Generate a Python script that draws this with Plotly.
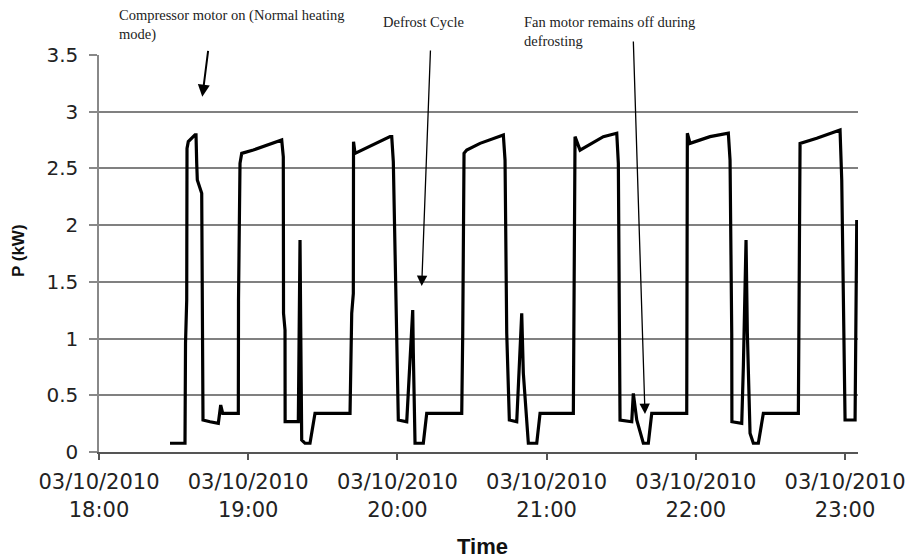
import pandas as pd
import plotly.graph_objects as go

# minutes after 03/10/2010 18:00
minutes = [28.55, 34.58, 34.79, 35.27, 35.39, 35.91, 38.61, 39.01, 39.29, 39.53,
           41.30, 41.40, 41.62, 41.82, 44.64, 47.98, 48.94, 49.74, 56.02, 56.10,
           56.70, 57.39, 62.05, 72.79, 73.47, 74.11, 74.20, 74.80, 74.85, 80.15,
           80.83, 81.11, 81.51, 82.84, 84.85, 86.86, 100.94, 101.62, 102.27, 102.35,
           102.95, 117.02, 117.71, 118.35, 120.36, 123.74, 124.38, 126.15, 126.39, 127.08,
           130.41, 131.78, 145.86, 146.26, 146.78, 147.87, 153.22, 162.59, 163.27, 163.95,
           165.00, 167.97, 169.98, 170.63, 172.64, 176.02, 177.35, 190.74, 191.42, 193.43,
           202.80, 208.19, 208.83, 209.51, 214.22, 214.86, 216.23, 218.88, 220.89, 222.26,
           236.33, 236.58, 237.66, 245.70, 253.06, 253.75, 254.43, 254.50, 258.45, 259.10,
           260.18, 260.71, 261.79, 263.12, 265.13, 267.14, 281.22, 281.90, 288.62, 297.98,
           298.66, 300.00, 304.02, 304.70]
power_kw = [0.077, 0.077, 0.958, 1.34, 2.677, 2.736, 2.795, 2.795, 2.545, 2.398,
            2.281, 1.428, 1.281, 0.282, 0.267, 0.253, 0.414, 0.341, 0.341, 1.34,
            2.545, 2.633, 2.662, 2.751, 2.751, 2.603, 1.223, 1.076, 0.267, 0.267,
            1.869, 1.105, 0.106, 0.077, 0.077, 0.341, 0.341, 1.223, 1.399, 2.736,
            2.633, 2.78, 2.78, 2.559, 0.282, 0.267, 0.517, 1.252, 0.873, 0.077,
            0.077, 0.341, 0.341, 1.046, 2.633, 2.662, 2.721, 2.795, 2.574, 1.046,
            0.282, 0.267, 1.223, 0.694, 0.077, 0.077, 0.341, 0.341, 2.78, 2.662,
            2.78, 2.81, 2.545, 0.282, 0.267, 0.517, 0.282, 0.077, 0.077, 0.341,
            0.341, 2.81, 2.721, 2.78, 2.81, 2.574, 1.046, 0.267, 0.253, 0.752,
            1.869, 1.046, 0.165, 0.077, 0.077, 0.341, 0.341, 2.721, 2.766, 2.839,
            2.398, 0.282, 0.282, 2.045]

tick_hours = ["18:00", "19:00", "20:00", "21:00", "22:00", "23:00"]
tick_date = "03/10/2010"
y_ticks = [0, 0.5, 1, 1.5, 2, 2.5, 3, 3.5]
y_ticktext = ["0", "0.5", "1", "1.5", "2", "2.5", "3", "3.5"]

t0 = pd.Timestamp("2010-10-03 18:00")
x_time = t0 + pd.to_timedelta(minutes, unit="m")
tickvals = [pd.Timestamp("2010-10-03 " + h) for h in tick_hours]
ticktext = [tick_date + "<br>" + h for h in tick_hours]

fig = go.Figure()
fig.add_trace(go.Scatter(x=x_time, y=power_kw, mode="lines",
                         line=dict(color="black", width=3.2), showlegend=False))

fig.update_layout(
    width=908, height=560,
    margin=dict(l=99, r=50, t=55, b=108),
    paper_bgcolor="white", plot_bgcolor="white",
    xaxis=dict(type="date", automargin=False,
               range=[t0, t0 + pd.Timedelta(minutes=305.2)],
               tickvals=tickvals, ticktext=ticktext,
               showgrid=False, zeroline=False,
               showline=True, linecolor="#555", linewidth=2,
               ticks="outside", ticklen=6, tickcolor="#555", tickwidth=1.5,
               ticklabelstandoff=4,
               tickfont=dict(family="DejaVu Sans", size=21, color="#222")),
    yaxis=dict(range=[0, 3.5], tickvals=y_ticks, ticktext=y_ticktext, automargin=False,
               showgrid=True, gridcolor="#808080", gridwidth=1.5,
               zeroline=False, showline=True, linecolor="#888", linewidth=1.5,
               ticks="outside", ticklen=8, tickcolor="#888", tickwidth=1.5,
               ticklabelstandoff=7,
               tickfont=dict(family="DejaVu Sans", size=20, color="#222")),
)

def px_x(X):
    return (X - 99) / 759.0

def px_y(Y):
    return (452 - Y) / 397.0

serif = dict(family="Liberation Serif, Times New Roman, serif", size=14.5, color="#222")
notes = [
    ("Compressor motor on (Normal heating<br>mode)", 117, 5),
    ("Defrost Cycle", 381, 12),
    ("Fan motor remains off during<br>defrosting", 522, 12),
]
for txt, X, Y in notes:
    fig.add_annotation(text=txt, xref="paper", yref="paper", x=px_x(X), y=px_y(Y),
                       xanchor="left", yanchor="top", align="left",
                       showarrow=False, font=serif)

arrows = [
    (202.3, 96.7, 6.0, -47.4, 2.0),
    (421.7, 286.0, 8.8, -237.0, 1.3),
    (645.0, 414.0, -11.7, -374.0, 1.3),
]
for X, Y, ax, ay, w in arrows:
    fig.add_annotation(text="", xref="paper", yref="paper", x=px_x(X), y=px_y(Y),
                       ax=ax, ay=ay, axref="pixel", ayref="pixel",
                       showarrow=True, arrowhead=2, arrowsize=1.6 if w < 2 else 1.2,
                       arrowwidth=w, arrowcolor="black", standoff=0)

fig.add_annotation(text="<b>Time</b>", xref="paper", yref="paper",
                   x=px_x(482), y=px_y(546), xanchor="center", yanchor="middle",
                   showarrow=False,
                   font=dict(family="Liberation Sans, Arial", size=22, color="#111"))
fig.add_annotation(text="<b>P (kW)</b>", xref="paper", yref="paper",
                   x=px_x(18), y=px_y(251), xanchor="center", yanchor="middle",
                   textangle=-90, showarrow=False,
                   font=dict(family="Liberation Sans, Arial", size=17, color="#111"))

fig.write_html("out.html", config={"displayModeBar": False},
               post_script="document.body.style.margin='0px';document.body.style.overflow='hidden';")
